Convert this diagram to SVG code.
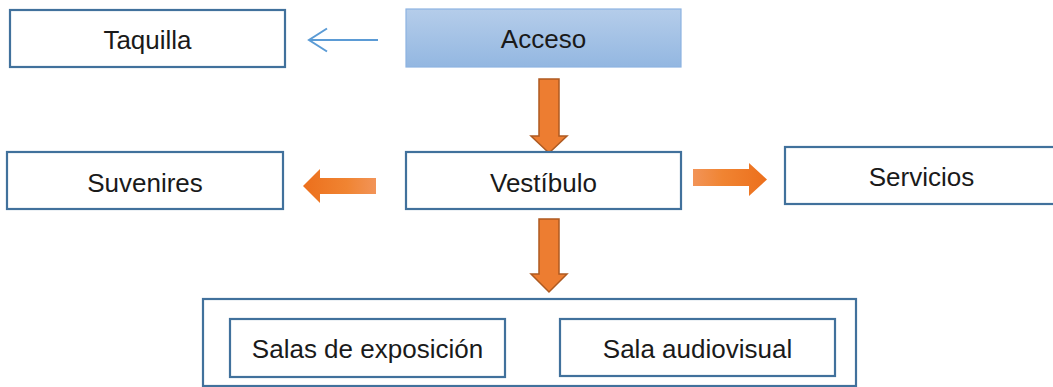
<svg xmlns="http://www.w3.org/2000/svg" width="1053" height="387" viewBox="0 0 1053 387">
<defs>
<style>
.box{fill:#ffffff;stroke:#41719c;stroke-width:2.2}
.lbl{font-family:"Liberation Sans",Arial,sans-serif;font-size:26px;fill:#1a1a1a;text-anchor:middle}
.down{fill:#ed7d31;stroke:#ae5a21;stroke-width:1.5}
</style>
<linearGradient id="gAcc" x1="0" y1="0" x2="0" y2="1">
<stop offset="0" stop-color="#b5cdea"/>
<stop offset="1" stop-color="#93b7e1"/>
</linearGradient>
<linearGradient id="gL" x1="0" y1="0" x2="1" y2="0">
<stop offset="0" stop-color="#ec6f1c"/>
<stop offset="0.6" stop-color="#f08432"/>
<stop offset="1" stop-color="#f29458"/>
</linearGradient>
<linearGradient id="gR" x1="0" y1="0" x2="1" y2="0">
<stop offset="0" stop-color="#f29458"/>
<stop offset="0.4" stop-color="#f08432"/>
<stop offset="1" stop-color="#ec6f1c"/>
</linearGradient>
</defs>

<g id="connectors">
<g id="c-acceso-taquilla" fill="none" stroke="#5b9bd5" stroke-width="2">
<line x1="378" y1="40" x2="309" y2="40"/>
<polyline points="327,28.5 309,40 327,51.5"/>
</g>
<polygon id="c-acceso-vestibulo" class="down" points="539,79 559,79 559,136 567,136 549,153 531,136 539,136"/>
<polygon id="c-vestibulo-suvenires" fill="url(#gL)" points="376,178 320,178 320,169 303,186 320,203 320,194 376,194"/>
<polygon id="c-vestibulo-servicios" fill="url(#gR)" points="693,169 749,169 749,163 767,179.5 749,196 749,186 693,186"/>
<polygon id="c-vestibulo-salas" class="down" points="539,219 559,219 559,274 567,274 549,292 531,274 539,274"/>
</g>

<g id="n-taquilla">
<rect class="box" x="10" y="10" width="275" height="57"/>
<text class="lbl" x="147.5" y="49">Taquilla</text>
</g>
<g id="n-acceso">
<rect x="406" y="9" width="275" height="58" fill="url(#gAcc)" stroke="#8db3e2" stroke-width="1.2"/>
<text class="lbl" x="543.5" y="48">Acceso</text>
</g>
<g id="n-suvenires">
<rect class="box" x="7" y="152" width="276" height="57"/>
<text class="lbl" x="145" y="192">Suvenires</text>
</g>
<g id="n-vestibulo">
<rect class="box" x="406" y="152" width="275" height="57"/>
<text class="lbl" x="543.5" y="192">Vestíbulo</text>
</g>
<g id="n-servicios">
<rect class="box" x="785" y="147" width="273" height="57"/>
<text class="lbl" x="921.5" y="186">Servicios</text>
</g>
<g id="n-salas-grupo">
<rect class="box" x="203" y="299" width="653" height="87"/>
<g id="n-salas-exposicion">
<rect class="box" x="230" y="319" width="275" height="58"/>
<text class="lbl" x="367.5" y="358">Salas de exposición</text>
</g>
<g id="n-sala-audiovisual">
<rect class="box" x="560" y="319" width="275" height="57"/>
<text class="lbl" x="697.5" y="358">Sala audiovisual</text>
</g>
</g>
</svg>
